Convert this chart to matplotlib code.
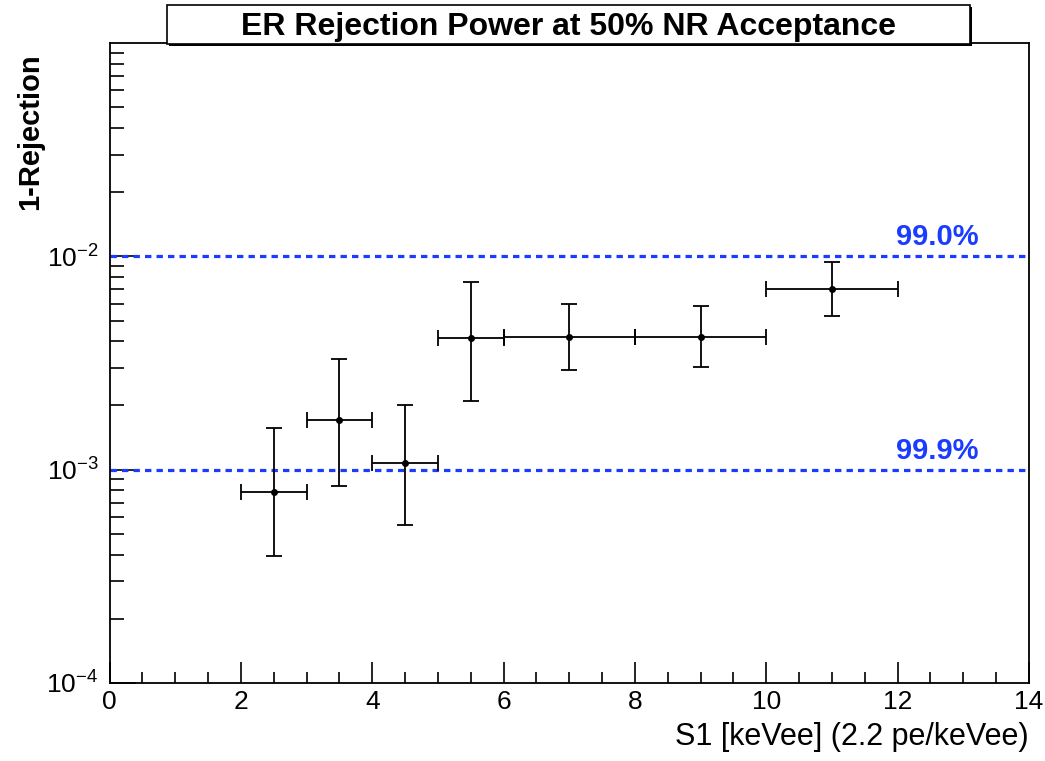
import matplotlib
matplotlib.use("Agg")
import matplotlib.pyplot as plt
import numpy as np
from matplotlib.patches import Rectangle
from matplotlib.ticker import LogLocator, MultipleLocator, FixedLocator

plt.rcParams['font.family'] = ['Liberation Sans', 'DejaVu Sans']
plt.rcParams['mathtext.default'] = 'regular'
plt.rcParams['axes.unicode_minus'] = False

# S1 bins (keVee) and measured leakage fraction with asymmetric errors
s1 = [2.5, 3.5, 4.5, 5.5, 7.0, 9.0, 11.0]
s1_halfwidth = [0.5, 0.5, 0.5, 0.5, 1.0, 1.0, 1.0]
leak = [7.9e-4, 1.71e-3, 1.08e-3, 4.13e-3, 4.20e-3, 4.20e-3, 7.0e-3]
leak_hi = [1.56e-3, 3.30e-3, 2.02e-3, 7.55e-3, 5.96e-3, 5.84e-3, 9.38e-3]
leak_lo = [3.95e-4, 8.4e-4, 5.48e-4, 2.09e-3, 2.92e-3, 3.03e-3, 5.24e-3]

# reference rejection levels
ref_levels = [1e-2, 1e-3]
ref_labels = ['99.0%', '99.9%']

blue = '#1a3cff'

fig = plt.figure(figsize=(10.45, 7.61), dpi=100)
ax = fig.add_axes([0.1048, 0.1025, 0.9847 - 0.1048, 0.9435 - 0.1025])

lo = np.array(leak) - np.array(leak_lo)
hi = np.array(leak_hi) - np.array(leak)
ax.errorbar(s1, leak, xerr=s1_halfwidth, yerr=[lo, hi], fmt='o', color='black',
            ms=4, elinewidth=1.3, capsize=5.5, capthick=1.3, zorder=3)

for lvl, lab in zip(ref_levels, ref_labels):
    ax.axhline(lvl, color=blue, lw=2.3, dashes=(2.0, 1.6), zorder=2)
    ax.text(12.6, lvl * 1.125, lab, color=blue, fontsize=21, fontweight='bold',
            ha='center', va='baseline')

ax.set_yscale('log')
ax.set_xlim(0, 14)
ax.set_ylim(1e-4, 1e-1)

ax.yaxis.set_major_locator(FixedLocator([1e-4, 1e-3, 1e-2]))
ax.yaxis.set_minor_locator(LogLocator(base=10, subs=np.arange(2, 10)))
ax.xaxis.set_major_locator(MultipleLocator(2))
ax.xaxis.set_minor_locator(MultipleLocator(0.5))

ax.tick_params(axis='both', which='both', direction='in', top=False, right=False,
               width=1.2, labelsize=19)
ax.tick_params(axis='y', which='major', length=19, pad=8)
ax.tick_params(axis='y', which='minor', length=10)
ax.tick_params(axis='x', which='major', length=15, pad=5)
ax.tick_params(axis='x', which='minor', length=8)
for sp in ax.spines.values():
    sp.set_linewidth(1.3)

ax.set_xlabel('S1 [keVee] (2.2 pe/keVee)', fontsize=22, loc='right', labelpad=6)
fig.text(30 / 1045, 1 - 132 / 761, '1-Rejection', rotation=90, fontsize=21,
         fontweight='bold', ha='center', va='center')

# title pave with a small drop shadow
W, H = 1045, 761
bx0, bx1, by0, by1 = 167, 970, 5, 44
fig.add_artist(Rectangle((bx0 / W + 2 / W, 1 - by1 / H - 2 / H), (bx1 - bx0) / W, (by1 - by0) / H,
                         transform=fig.transFigure, facecolor='black', edgecolor='none', zorder=5))
fig.add_artist(Rectangle((bx0 / W, 1 - by1 / H), (bx1 - bx0) / W, (by1 - by0) / H,
                         transform=fig.transFigure, facecolor='white', edgecolor='black',
                         lw=1.2, zorder=6))
fig.text((bx0 + bx1) / 2 / W, 1 - 27 / H, 'ER Rejection Power at 50% NR Acceptance',
         fontsize=23, fontweight='bold', ha='center', va='center', zorder=7)

fig.savefig('out.png', dpi=100)
